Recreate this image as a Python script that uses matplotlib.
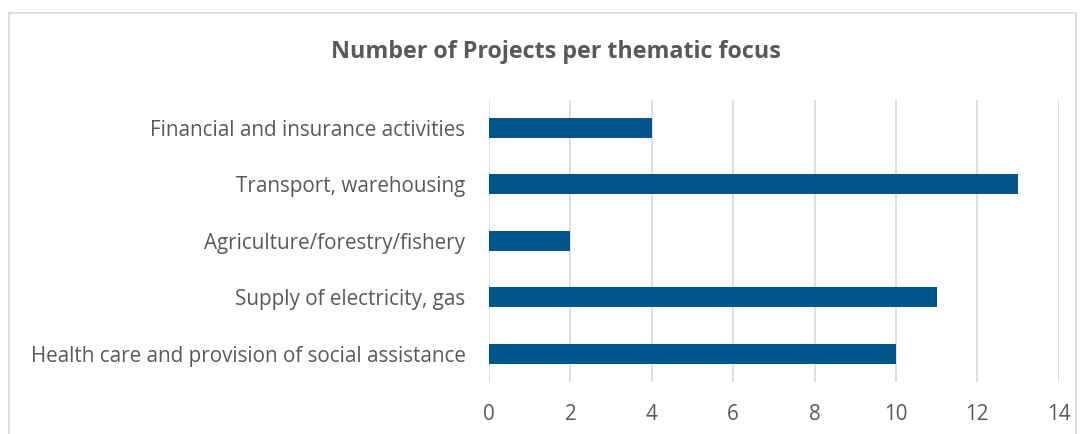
import matplotlib.pyplot as plt
from matplotlib.patches import Rectangle

categories = ['Health care and provision of social assistance',
              'Supply of electricity, gas',
              'Agriculture/forestry/fishery',
              'Transport, warehousing',
              'Financial and insurance activities']
projects = [10, 11, 2, 13, 4]
x_ticks = [0, 2, 4, 6, 8, 10, 12, 14]

plt.rcParams['font.family'] = ['Open Sans', 'DejaVu Sans']

fig = plt.figure(figsize=(10.86, 4.34), dpi=100)
ax = fig.add_axes([0.4503, 0.1198, 0.5245, 0.6504])

# chart border
fig.patches.append(Rectangle((9 / 1086, -0.1), (1076 - 9) / 1086, 1.1 - 13 / 434,
                             transform=fig.transFigure, fill=False,
                             edgecolor='#D9D9D9', linewidth=1.2))

ax.barh(range(len(categories)), projects, height=0.355, color='#00558A', zorder=3)
ax.set_yticks(range(len(categories)))
ax.set_yticklabels(categories, fontsize=14.9, color='#595959')
ax.set_xticks(x_ticks)
ax.set_xticklabels([str(t) for t in x_ticks], fontsize=14.9, color='#595959')
ax.set_xlim(0, 14)
ax.set_ylim(-0.5, len(categories) - 0.5)
ax.tick_params(axis='y', length=0, pad=17)
ax.tick_params(axis='x', length=0, pad=16)
ax.grid(axis='x', color='#D9D9D9', linewidth=1.2, zorder=0)
for s in ax.spines.values():
    s.set_visible(False)

fig.text(0.512, 0.88, 'Number of Projects per thematic focus', ha='center', va='center',
         fontsize=16.75, fontweight='bold', color='#595959')

fig.savefig('out.png', dpi=100)
